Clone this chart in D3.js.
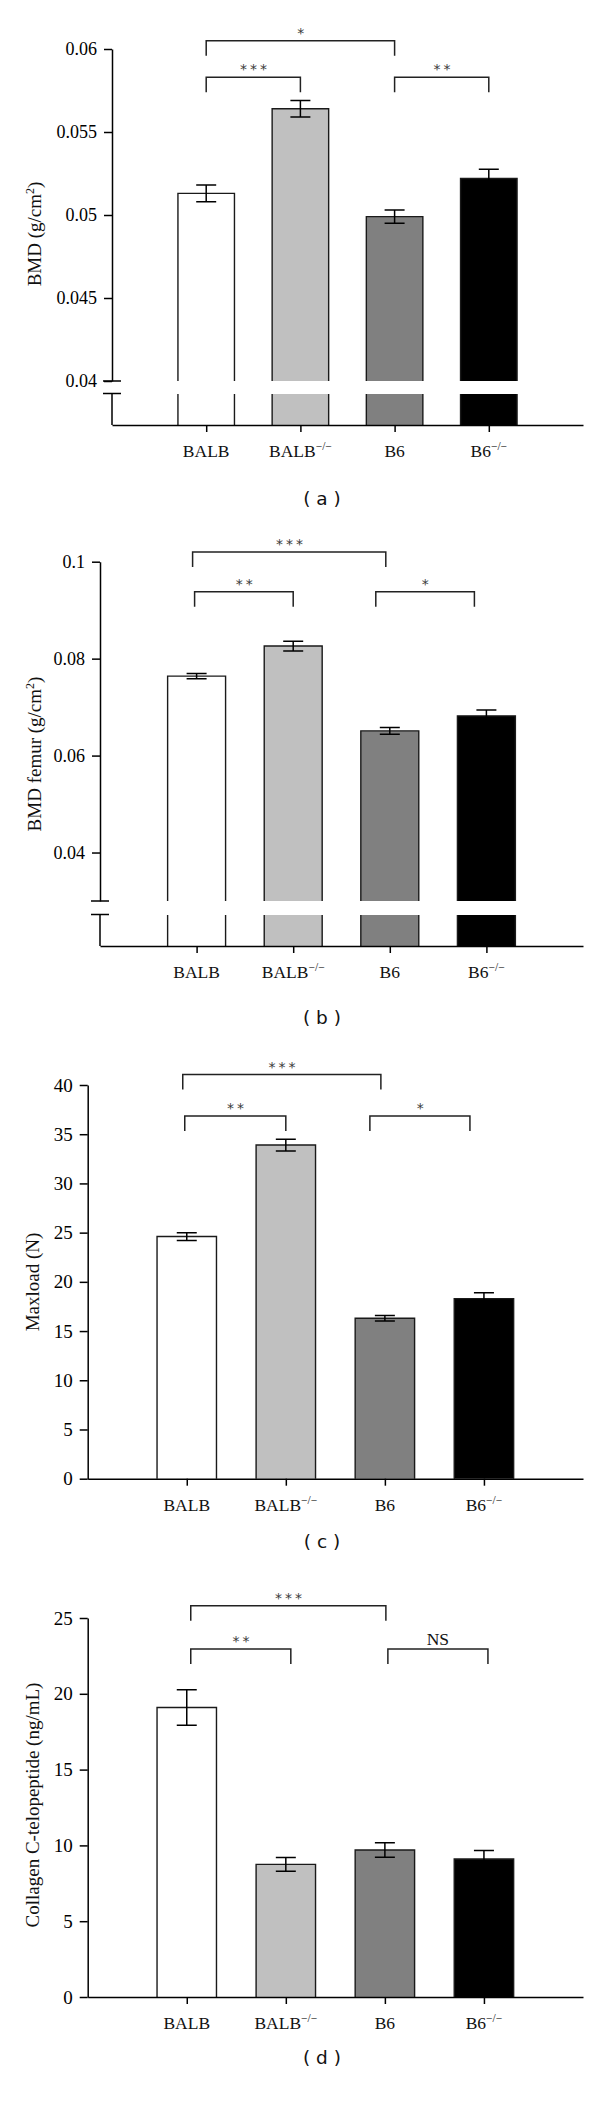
<!DOCTYPE html>
<html>
<head>
<meta charset="utf-8">
<script src="https://cdn.jsdelivr.net/npm/d3@7"></script>
<style>
  body { margin: 0; background: #fff; }
  svg { display: block; }
</style>
</head>
<body>
<div id="chart"></div>
<script>
const categories = ["BALB", "BALB−/−", "B6", "B6−/−"];
const barColors = ["#ffffff", "#c0c0c0", "#808080", "#000000"];

const bmdMean = [0.0513, 0.0564, 0.0499, 0.0522];
const bmdErr = [0.0005, 0.0005, 0.0004, 0.00055];
const bmdTicks = [0.04, 0.045, 0.05, 0.055, 0.06];
const bmdTickLabels = ["0.04", "0.045", "0.05", "0.055", "0.06"];

const femurMean = [0.0764, 0.0826, 0.0651, 0.0682];
const femurErr = [0.00055, 0.001, 0.0007, 0.0012];
const femurTicks = [0.04, 0.06, 0.08, 0.1];
const femurTickLabels = ["0.04", "0.06", "0.08", "0.1"];

const maxloadMean = [24.6, 33.9, 16.3, 18.3];
const maxloadErr = [0.4, 0.6, 0.27, 0.6];
const maxloadTicks = [0, 5, 10, 15, 20, 25, 30, 35, 40];
const maxloadTickLabels = ["0", "5", "10", "15", "20", "25", "30", "35", "40"];

const ctxMean = [19.1, 8.75, 9.7, 9.1];
const ctxErr = [1.17, 0.46, 0.48, 0.57];
const ctxTicks = [0, 5, 10, 15, 20, 25];
const ctxTickLabels = ["0", "5", "10", "15", "20", "25"];

// significance brackets: [from, to, level (in y units), label]
const bmdSig = [[0, 2, 0.0605, "*"], [0, 1, 0.0583, "***"], [2, 3, 0.0583, "**"]];
const femurSig = [[0, 2, 0.1020, "***"], [0, 1, 0.0938, "**"], [2, 3, 0.0938, "*"]];
const maxloadSig = [[0, 2, 41.06, "***"], [0, 1, 36.86, "**"], [2, 3, 36.86, "*"]];
const ctxSig = [[0, 2, 25.8, "***"], [0, 1, 22.95, "**"], [2, 3, 22.95, "NS"]];

// layout for each panel (pixels)
const panels = [
  { mean: bmdMean, err: bmdErr, ticks: bmdTicks, tickLabels: bmdTickLabels, sig: bmdSig,
    left: 112, right: 583, base: 425, yDomain: [0.04, 0.06], yRange: [381, 49],
    brk: { hi: 381, lo: 393.5 }, tickFont: 18,
    title: ["BMD (g/cm", "2", ")"], titleX: 41, titleY: 234,
    shift: [[0, 0], [0, 0], [0, 0]], label: "( a )", labelY: 505 },
  { mean: femurMean, err: femurErr, ticks: femurTicks, tickLabels: femurTickLabels, sig: femurSig,
    left: 100, right: 583, base: 946, yDomain: [0.03, 0.1], yRange: [901, 561.7],
    brk: { hi: 901, lo: 914.5 }, tickFont: 18,
    title: ["BMD femur (g/cm", "2", ")"], titleX: 40.5, titleY: 754,
    shift: [[-4, -4], [-2, 0], [-14, -12]], label: "( b )", labelY: 1024 },
  { mean: maxloadMean, err: maxloadErr, ticks: maxloadTicks, tickLabels: maxloadTickLabels, sig: maxloadSig,
    left: 87.7, right: 583, base: 1478.7, yDomain: [0, 40], yRange: [1478.7, 1085],
    brk: null, tickFont: 19,
    title: ["Maxload (N)"], titleX: 38.5, titleY: 1282,
    shift: [[-4, -4], [-2, 0], [-15, -14]], label: "( c )", labelY: 1548 },
  { mean: ctxMean, err: ctxErr, ticks: ctxTicks, tickLabels: ctxTickLabels, sig: ctxSig,
    left: 87.7, right: 583, base: 1997, yDomain: [0, 25], yRange: [1997, 1618],
    brk: null, tickFont: 19,
    title: ["Collagen C-telopeptide (ng/mL)"], titleX: 38.5, titleY: 1805,
    shift: [[4, 1], [4, 5], [3, 4]], label: "( d )", labelY: 2064 }
];

const serif = "'Liberation Serif', 'Times New Roman', serif";
const sans = "'DejaVu Sans', Verdana, sans-serif";

const svg = d3.select("#chart").append("svg")
  .attr("width", 600)
  .attr("height", 2102);

function drawPanel(p) {
  const g = svg.append("g");
  const x = d3.scalePoint().domain(categories).range([p.left, p.right]).padding(1);
  const y = d3.scaleLinear().domain(p.yDomain).range(p.yRange);
  const bw = x.step() * 0.6;
  const rows = categories.map((c, i) => ({ c: c, i: i, v: p.mean[i], e: p.err[i] }));
  const upperBottom = p.brk ? p.brk.hi : p.base;

  // bars (upper part)
  g.selectAll(".bar")
    .data(rows)
    .enter()
    .append("rect")
      .attr("x", d => x(d.c) - bw / 2)
      .attr("y", d => y(d.v))
      .attr("width", bw)
      .attr("height", d => upperBottom - y(d.v))
      .attr("fill", d => barColors[d.i]);

  g.selectAll(".outline")
    .data(rows)
    .enter()
    .append("path")
      .attr("d", d => {
        const x0 = x(d.c) - bw / 2, x1 = x0 + bw;
        return "M" + x0 + "," + upperBottom + "V" + y(d.v) + "H" + x1 + "V" + upperBottom;
      })
      .attr("fill", "none")
      .attr("stroke", "#1a1a1a")
      .attr("stroke-width", 1.4);

  // lower part below the axis break
  if (p.brk) {
    g.selectAll(".lower")
      .data(rows)
      .enter()
      .append("rect")
        .attr("x", d => x(d.c) - bw / 2)
        .attr("y", p.brk.lo + 0.5)
        .attr("width", bw)
        .attr("height", p.base - p.brk.lo - 0.5)
        .attr("fill", d => barColors[d.i]);
    g.selectAll(".lowerEdge")
      .data(rows)
      .enter()
      .append("path")
        .attr("d", d => {
          const x0 = x(d.c) - bw / 2, x1 = x0 + bw;
          return "M" + x0 + "," + (p.brk.lo + 0.5) + "V" + p.base + "M" + x1 + "," + (p.brk.lo + 0.5) + "V" + p.base;
        })
        .attr("fill", "none")
        .attr("stroke", "#1a1a1a")
        .attr("stroke-width", 1.4);
  }

  // error bars
  const cap = 10;
  g.selectAll(".err")
    .data(rows)
    .enter()
    .append("path")
      .attr("d", d => {
        const cx = x(d.c), y0 = y(d.v - d.e), y1 = y(d.v + d.e);
        return "M" + cx + "," + y0 + "V" + y1 +
          "M" + (cx - cap) + "," + y1 + "H" + (cx + cap) +
          "M" + (cx - cap) + "," + y0 + "H" + (cx + cap);
      })
      .attr("fill", "none")
      .attr("stroke", "#000")
      .attr("stroke-width", 1.5);

  // y axis
  const yAxis = g.append("g")
    .attr("transform", "translate(" + p.left + ",0)")
    .call(d3.axisLeft(y)
      .tickValues(p.ticks)
      .tickFormat((d, i) => p.tickLabels[i])
      .tickSize(8)
      .tickSizeOuter(0)
      .tickPadding(7));
  yAxis.attr("font-family", serif).attr("font-size", p.tickFont).attr("color", "#000");
  yAxis.selectAll("path, line").attr("stroke-width", 1.5);

  if (p.brk) {
    g.append("path")
      .attr("d", "M" + p.left + "," + p.brk.lo + "V" + p.base +
        "M" + (p.left - 9) + "," + p.brk.hi + "H" + (p.left + 9) +
        "M" + (p.left - 9) + "," + p.brk.lo + "H" + (p.left + 9))
      .attr("fill", "none")
      .attr("stroke", "#000")
      .attr("stroke-width", 1.5);
  }

  // x axis
  const xAxis = g.append("g")
    .attr("transform", "translate(0," + p.base + ")")
    .call(d3.axisBottom(x).tickSize(7).tickSizeOuter(0).tickFormat(""));
  xAxis.attr("color", "#000");
  xAxis.selectAll("path, line").attr("stroke-width", 1.5);

  const xl = g.selectAll(".xlabel")
    .data(categories)
    .enter()
    .append("text")
      .attr("x", d => x(d))
      .attr("y", p.base + 32)
      .attr("text-anchor", "middle")
      .attr("font-family", serif)
      .attr("font-size", 17.5)
      .attr("fill", "#111");
  xl.append("tspan").text(d => d.replace("−/−", ""));
  xl.filter(d => d.indexOf("−/−") >= 0)
    .append("tspan")
      .attr("dy", -7)
      .attr("font-size", 11.5)
      .text("−/−");

  // y title
  const t = g.append("text")
    .attr("transform", "translate(" + p.titleX + "," + p.titleY + ") rotate(-90)")
    .attr("text-anchor", "middle")
    .attr("font-family", serif)
    .attr("font-size", 19)
    .attr("fill", "#111");
  t.append("tspan").text(p.title[0]);
  if (p.title.length > 1) {
    t.append("tspan").attr("dy", -7).attr("font-size", 12).text(p.title[1]);
    t.append("tspan").attr("dy", 7).text(p.title[2]);
  }

  // significance brackets
  const leg = 15;
  p.sig.forEach((s, k) => {
    const x0 = x(categories[s[0]]) + p.shift[k][0];
    const x1 = x(categories[s[1]]) + p.shift[k][1];
    const yl = y(s[2]);
    g.append("path")
      .attr("d", "M" + x0 + "," + (yl + leg) + "V" + yl + "H" + x1 + "V" + (yl + leg))
      .attr("fill", "none")
      .attr("stroke", "#222")
      .attr("stroke-width", 1.5);
    const isStar = s[3].indexOf("*") >= 0;
    g.append("text")
      .attr("x", (x0 + x1) / 2 + (isStar ? 1.75 : 0))
      .attr("y", isStar ? yl - 3 : yl - 4)
      .attr("text-anchor", "middle")
      .attr("font-family", isStar ? sans : serif)
      .attr("font-size", isStar ? 14 : 17.5)
      .attr("letter-spacing", isStar ? 3 : 0)
      .attr("fill", isStar ? "#3a3a3a" : "#111")
      .text(s[3]);
  });

  // panel label
  g.append("text")
    .attr("x", 322)
    .attr("y", p.labelY)
    .attr("text-anchor", "middle")
    .attr("font-family", sans)
    .attr("font-size", 18.5)
    .attr("fill", "#111")
    .text(p.label);
}

panels.forEach(drawPanel);
</script>
</body>
</html>
